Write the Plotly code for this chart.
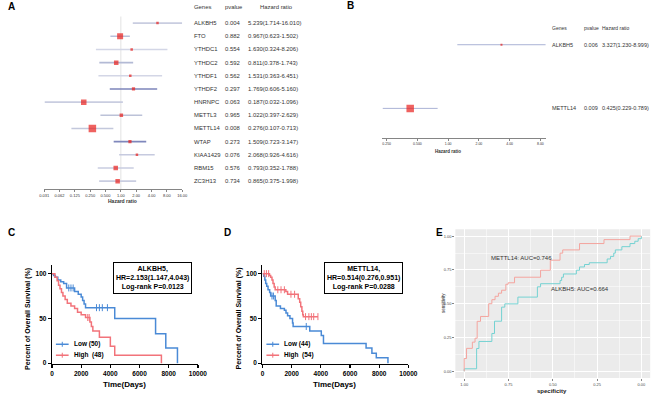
import math
import plotly.graph_objects as go

W, H = 669, 402
FONT = "Liberation Sans, Arial, sans-serif"


def fx(p):
    return p / W


def fy(p):
    return 1 - p / H


# ---------------- Panel A : univariate Cox forest ----------------
genes_a = ["ALKBH5", "FTO", "YTHDC1", "YTHDC2", "YTHDF1", "YTHDF2", "HNRNPC",
           "METTL3", "METTL14", "WTAP", "KIAA1429", "RBM15", "ZC3H13"]
pval_a = ["0.004", "0.882", "0.554", "0.592", "0.562", "0.297", "0.063",
          "0.965", "0.008", "0.273", "0.076", "0.576", "0.734"]
hr_a = [5.239, 0.967, 1.630, 0.811, 1.531, 1.769, 0.187, 1.022, 0.276, 1.509, 2.068, 0.793, 0.865]
lo_a = [1.714, 0.623, 0.324, 0.378, 0.363, 0.606, 0.032, 0.397, 0.107, 0.723, 0.926, 0.352, 0.375]
hi_a = [16.010, 1.502, 8.206, 1.743, 6.451, 5.160, 1.096, 2.629, 0.713, 3.147, 4.616, 1.788, 1.998]
ticks_a = [1 / 32, 1 / 16, 0.125, 0.25, 0.5, 1, 2, 4, 8, 16]
ticklabels_a = ["0.031", "0.062", "0.125", "0.250", "0.500", "1.00", "2.00", "4.00", "8.00", "16.00"]

# ---------------- Panel B : multivariate Cox forest ----------------
genes_b = ["ALKBH5", "METTL14"]
pval_b = ["0.006", "0.009"]
hr_b = [3.327, 0.425]
lo_b = [1.230, 0.229]
hi_b = [8.999, 0.789]
ticks_b = [0.25, 0.5, 1, 2, 4, 8]
ticklabels_b = ["0.250", "0.500", "1.00", "2.00", "4.00", "8.00"]

# ---------------- Panel C : KM by ALKBH5 ----------------
c_low_t = [0, 110, 230, 400, 600, 800, 1000, 1550, 1800, 2000, 2100, 2200, 2300, 4300, 7100, 7800, 8600]
c_low_s = [100, 98, 96, 93, 91, 89, 84, 80, 77, 74, 70, 66, 62, 50, 33, 17, 0]
c_low_cens = [1150, 1300, 1450, 3050, 3250, 3450, 3800]
c_high_t = [0, 200, 350, 450, 550, 650, 750, 900, 1050, 1300, 1550, 1750, 2000, 2300, 2600, 2700, 2800, 3250, 4000, 4300, 7500]
c_high_s = [100, 96, 92, 87, 83, 79, 75, 71, 67, 64, 61, 57, 54, 51, 46, 41, 36, 29, 19, 9, 0]
c_high_cens = [2450, 2550]

# ---------------- Panel D : KM by METTL14 ----------------
d_low_t = [0, 90, 160, 220, 290, 380, 490, 560, 870, 940, 1230, 1500, 1610, 1720, 1880, 2060, 2100,
           3240, 4030, 4180, 7100, 7500, 7800, 8600]
d_low_s = [100, 97, 93, 89, 86, 82, 79, 75, 70, 64, 61, 59, 56, 53, 50, 45, 41,
           36, 31, 22, 17, 11, 6, 0]
d_low_cens = [650, 750, 3000]
d_high_t = [0, 480, 560, 650, 720, 800, 870, 1600, 1720, 2450, 2550, 2620, 2700, 2760, 2800]
d_high_s = [100, 98, 96, 93, 89, 85, 82, 80, 77, 72, 68, 63, 58, 54, 52]
d_high_cens = [120, 270, 420, 1050, 1270, 1500, 1950, 2200, 2950, 3180, 3350, 3510, 3800]
km_ticks = [0, 2000, 4000, 6000, 8000, 10000]
km_yticks = [0, 50, 100]

# ---------------- Panel E : ROC ----------------
roc_mettl14_spec = [1.0, 1.0, 0.987, 0.954, 0.939, 0.927, 0.908, 0.862, 0.844, 0.826, 0.807, 0.789,
                    0.765, 0.752, 0.716, 0.569, 0.514, 0.459, 0.444, 0.349, 0.211, 0.064, 0.0]
roc_mettl14_sens = [0.0, 0.095, 0.17, 0.216, 0.245, 0.37, 0.406, 0.5, 0.53, 0.555, 0.578, 0.6,
                    0.644, 0.655, 0.696, 0.748, 0.822, 0.874, 0.898, 0.945, 0.974, 1.0, 1.0]
roc_alkbh5_spec = [1.0, 1.0, 0.930, 0.917, 0.844, 0.829, 0.789, 0.771, 0.697, 0.587, 0.569, 0.459,
                   0.450, 0.440, 0.367, 0.349, 0.321, 0.294, 0.193, 0.174, 0.156, 0.147, 0.110,
                   0.064, 0.037, 0.018, 0.0]
roc_alkbh5_sens = [0.0, 0.019, 0.169, 0.221, 0.28, 0.371, 0.475, 0.499, 0.549, 0.625, 0.648, 0.672,
                   0.696, 0.72, 0.748, 0.772, 0.79, 0.803, 0.831, 0.85, 0.874, 0.898, 0.922,
                   0.945, 0.962, 0.981, 1.0]
roc_ticks = [0, 0.25, 0.5, 0.75, 1.0]
auc_mettl14 = 0.746
auc_alkbh5 = 0.664

# ---------------- styles ----------------
RED_SQ = "#e8201c"
ci_col_a = ["#c9cde0", "#b9c0d9", "#d3d6e6", "#b3bad5", "#d3d6e6", "#7d85ba", "#c9cde0",
            "#bcc2d8", "#c3c8dc", "#7f87bc", "#c6cadf", "#c9cde0", "#c9cde0"]
sq_size_a = [2.5, 6, 2.5, 4.5, 2.5, 3.2, 5.5, 3.5, 7.5, 3.2, 2.5, 4.5, 4.5]
sq_size_b = [2, 7.5]
BLUE = "#4a8ad6"
PINK = "#f2737a"
SALMON = "#f4a49e"
TEAL = "#74d2d2"

fig = go.Figure()

# ---- A
rows_a = list(range(len(genes_a)))
fig.add_trace(go.Scatter(x=[1, 1], y=[-0.5, 12.6], mode="lines", xaxis="x", yaxis="y",
                         line=dict(color="#dcdcdc", width=0.8), hoverinfo="skip"))
for r, lo, hi, c in zip(rows_a, lo_a, hi_a, ci_col_a):
    fig.add_trace(go.Scatter(x=[lo, hi], y=[r, r], mode="lines", xaxis="x", yaxis="y",
                             line=dict(color=c, width=1.6), hoverinfo="skip"))
fig.add_trace(go.Scatter(x=hr_a, y=rows_a, mode="markers", xaxis="x", yaxis="y",
                         marker=dict(symbol="square", size=sq_size_a, color=RED_SQ, line_width=0)))

# ---- B
rows_b = list(range(len(genes_b)))
for r, lo, hi in zip(rows_b, lo_b, hi_b):
    fig.add_trace(go.Scatter(x=[lo, hi], y=[r, r], mode="lines", xaxis="x2", yaxis="y2",
                             line=dict(color="#aab2d5", width=1.0), hoverinfo="skip"))
fig.add_trace(go.Scatter(x=hr_b, y=rows_b, mode="markers", xaxis="x2", yaxis="y2",
                         marker=dict(symbol="square", size=sq_size_b, color=RED_SQ, line_width=0)))


# ---- KM helper
def km_traces(ts, ss, cens, color, xa, ya):
    xs, ys = list(ts), list(ss)
    if cens and max(cens) > xs[-1]:
        xs.append(max(cens))
        ys.append(ys[-1])
    fig.add_trace(go.Scatter(x=xs, y=ys, mode="lines", line_shape="hv", xaxis=xa, yaxis=ya,
                             line=dict(color=color, width=1.5), hoverinfo="skip"))
    cy = []
    for c in cens:
        v = ss[0]
        for t, s in zip(ts, ss):
            if t <= c:
                v = s
        cy.append(v)
    fig.add_trace(go.Scatter(x=cens, y=cy, mode="markers", xaxis=xa, yaxis=ya,
                             marker=dict(symbol="line-ns", size=5, line=dict(width=1, color=color)),
                             hoverinfo="skip"))


km_traces(c_low_t, c_low_s, c_low_cens, BLUE, "x3", "y3")
km_traces(c_high_t, c_high_s, c_high_cens, PINK, "x3", "y3")
km_traces(d_low_t, d_low_s, d_low_cens, BLUE, "x4", "y4")
km_traces(d_high_t, d_high_s, d_high_cens, PINK, "x4", "y4")

# ---- E
fig.add_trace(go.Scatter(x=roc_alkbh5_spec, y=roc_alkbh5_sens, mode="lines", line_shape="hv",
                         xaxis="x5", yaxis="y5", line=dict(color=TEAL, width=1), hoverinfo="skip"))
fig.add_trace(go.Scatter(x=roc_mettl14_spec, y=roc_mettl14_sens, mode="lines", line_shape="hv",
                         xaxis="x5", yaxis="y5", line=dict(color=SALMON, width=1), hoverinfo="skip"))

ann = []
shapes = []

# table text A
TXT = dict(family=FONT, size=5.9, color="#333333")
for r, g, p, h, lo, hi in zip(rows_a, genes_a, pval_a, hr_a, lo_a, hi_a):
    ann.append(dict(x=fx(191), y=r, xref="paper", yref="y", text=g, xanchor="left", font=TXT))
    ann.append(dict(x=fx(223), y=r, xref="paper", yref="y", text=p, xanchor="left", font=TXT))
    ann.append(dict(x=fx(246), y=r, xref="paper", yref="y", text=f"{h:.3f}({lo:.3f}-{hi:.3f})",
                    xanchor="left", font=TXT))
for xx, t in [(191, "Genes"), (223, "pvalue"), (258, "Hazard ratio")]:
    ann.append(dict(x=fx(xx), y=fy(7), xref="paper", yref="paper", text=t, xanchor="left", font=TXT))
ann.append(dict(x=fx(120), y=fy(202), xref="paper", yref="paper", text="<b>Hazard ratio</b>",
                font=dict(family=FONT, size=5, color="#333")))

# table text B
TXTB = dict(family=FONT, size=5.5, color="#333333")
for r, g, p, h, lo, hi in zip(rows_b, genes_b, pval_b, hr_b, lo_b, hi_b):
    ann.append(dict(x=fx(557), y=r, xref="paper", yref="y2", text=g, xanchor="left", font=TXTB))
    ann.append(dict(x=fx(589), y=r, xref="paper", yref="y2", text=p, xanchor="left", font=TXTB))
    ann.append(dict(x=fx(608), y=r, xref="paper", yref="y2", text=f"{h:.3f}({lo:.3f}-{hi:.3f})",
                    xanchor="left", font=TXTB))
for xx, t in [(557, "Genes"), (589, "pvalue"), (608, "Hazard ratio")]:
    ann.append(dict(x=fx(xx), y=fy(28), xref="paper", yref="paper", text=t, xanchor="left",
                    font=dict(family=FONT, size=5, color="#333333")))
ann.append(dict(x=fx(452), y=fy(152), xref="paper", yref="paper", text="<b>Hazard ratio</b>",
                font=dict(family=FONT, size=4.5, color="#333")))

# panel letters
for t, xx, yy in [("A", 7, 7), ("B", 353, 6), ("C", 7, 234), ("D", 227, 234), ("E", 444, 234)]:
    ann.append(dict(x=fx(xx), y=fy(yy), xref="paper", yref="paper", text=f"<b>{t}</b>",
                    font=dict(family=FONT, size=10, color="black")))

# KM titles, boxes, legends
BOLD7 = dict(family=FONT, size=7, color="black")
for x0, gene, hrtxt, ptxt, nlow, nhigh in [
    (0, "ALKBH5,", "HR=2.153(1.147,4.043)", "Log-rank P=0.0123", "Low (50)", "High\u00a0 (48)"),
    (215, "METTL14,", "HR=0.514(0.276,0.951)", "Log-rank P=0.0288", "Low (44)", "High\u00a0 (54)")]:
    ann.append(dict(x=fx(122 + x0), y=fy(386), xref="paper", yref="paper", text="<b>Time(Days)</b>",
                    font=dict(family=FONT, size=8, color="black")))
    ann.append(dict(x=fx(24 + x0), y=fy(320), xref="paper", yref="paper",
                    text="<b>Percent of Overall Survival (%)</b>", textangle=-90,
                    font=dict(family=FONT, size=7, color="black")))
    ann.append(dict(x=fx(151 + x0), y=fy(279.5), xref="paper", yref="paper",
                    text=f"<b>{gene}</b><br><b>{hrtxt}</b><br><b>{ptxt}</b>",
                    bordercolor="black", borderwidth=1, borderpad=2, bgcolor="white", font=BOLD7))
    for yy, col, lab in [(346, BLUE, nlow), (357, PINK, nhigh)]:
        shapes.append(dict(type="line", xref="paper", yref="paper", x0=fx(52 + x0), x1=fx(65 + x0),
                           y0=fy(yy), y1=fy(yy), line=dict(color=col, width=1.5)))
        shapes.append(dict(type="line", xref="paper", yref="paper", x0=fx(58.5 + x0), x1=fx(58.5 + x0),
                           y0=fy(yy - 2.5), y1=fy(yy + 2.5), line=dict(color=col, width=1)))
        ann.append(dict(x=fx(68 + x0), y=fy(yy), xref="paper", yref="paper", text=f"<b>{lab}</b>",
                        xanchor="left", font=dict(family=FONT, size=6.5, color="black")))

# E texts
ann.append(dict(x=0.677, y=0.838, xref="x5", yref="y5", text=f"METTL14: AUC={auc_mettl14:.3f}",
                font=dict(family=FONT, size=6, color="#333")))
ann.append(dict(x=0.347, y=0.606, xref="x5", yref="y5", text=f"ALKBH5: AUC={auc_alkbh5:.3f}",
                font=dict(family=FONT, size=6, color="#333")))
ann.append(dict(x=fx(559), y=fy(393), xref="paper", yref="paper", text="<b>specificity</b>",
                font=dict(family=FONT, size=6, color="#222")))
ann.append(dict(x=fx(448), y=fy(305), xref="paper", yref="paper", text="sensitivity", textangle=-90,
                font=dict(family=FONT, size=4.5, color="#222")))
shapes.append(dict(type="rect", xref="x5 domain", yref="y5 domain", x0=0, x1=1, y0=0, y1=1,
                   fillcolor="#EBEBEB", line=dict(width=0), layer="below"))

for a in ann:
    a.setdefault("showarrow", False)
    a.setdefault("xanchor", "center")
    a.setdefault("yanchor", "middle")

forest_x = dict(type="log", showline=True, linecolor="#666", linewidth=0.8, ticks="outside", ticklen=2,
                tickcolor="#666", tickwidth=0.8, tickfont=dict(family=FONT, size=4, color="#333"),
                showgrid=False, zeroline=False)
km_x = dict(range=[0, 10000], tickvals=km_ticks, ticktext=[str(v) for v in km_ticks], showline=True,
            linecolor="black", linewidth=1.3, ticks="outside", ticklen=3, tickwidth=1.3, tickcolor="black",
            tickfont=dict(family=FONT, size=6.5, color="black", weight="bold"), showgrid=False, zeroline=False)
km_y = dict(range=[-1.1, 110], tickvals=km_yticks, ticktext=[str(v) for v in km_yticks], showline=True,
            linecolor="black", linewidth=1.3,
            ticks="outside", ticklen=3, tickwidth=1.3, tickcolor="black",
            tickfont=dict(family=FONT, size=6.5, color="black", weight="bold"), showgrid=False, zeroline=False,
            domain=[fy(366), fy(266)])
roc_common = dict(tickvals=roc_ticks, ticktext=[f"{v:.2f}" for v in roc_ticks],
                  showgrid=True, gridcolor="white", gridwidth=1, zeroline=False, showline=False,
                  ticks="outside", ticklen=2, tickcolor="#333", tickwidth=0.6,
                  tickfont=dict(family=FONT, size=4, color="#4d4d4d"),
                  minor=dict(tickvals=[0.125, 0.375, 0.625, 0.875], showgrid=True, gridcolor="white",
                             gridwidth=0.5))

fig.update_layout(
    width=W, height=H, autosize=False, margin=dict(l=0, r=0, t=0, b=0),
    paper_bgcolor="white", plot_bgcolor="rgba(0,0,0,0)", showlegend=False,
    font=dict(family=FONT), hovermode=False,
    xaxis=dict(forest_x, domain=[fx(40), fx(181)], range=[math.log10(1 / 32), math.log10(16)],
               tickvals=ticks_a, ticktext=ticklabels_a, anchor="y"),
    yaxis=dict(domain=[fy(190), fy(10)], range=[12.6, -1], visible=False, anchor="x"),
    xaxis2=dict(forest_x, domain=[fx(385), fx(553)], range=[math.log10(0.2248), math.log10(9.17)],
                tickvals=ticks_b, ticktext=ticklabels_b, anchor="y2",
                tickfont=dict(family=FONT, size=3.5, color="#333")),
    yaxis2=dict(domain=[fy(139), fy(20)], range=[1.47, -0.39], visible=False, anchor="x2"),
    xaxis3=dict(km_x, domain=[fx(48), fx(197)], anchor="y3"),
    yaxis3=dict(km_y, anchor="x3"),
    xaxis4=dict(km_x, domain=[fx(263), fx(412)], anchor="y4"),
    yaxis4=dict(km_y, anchor="x4"),
    xaxis5=dict(roc_common, domain=[fx(460), fx(659)], range=[1.05, -0.05], anchor="y5"),
    yaxis5=dict(roc_common, domain=[fy(380), fy(230.5)], range=[-0.05, 1.05], anchor="x5"),
    annotations=ann, shapes=shapes,
)

fig.write_html("out.html", config={"displayModeBar": False, "staticPlot": True},
               post_script="document.body.style.margin='0px';document.body.style.overflow='hidden';")
